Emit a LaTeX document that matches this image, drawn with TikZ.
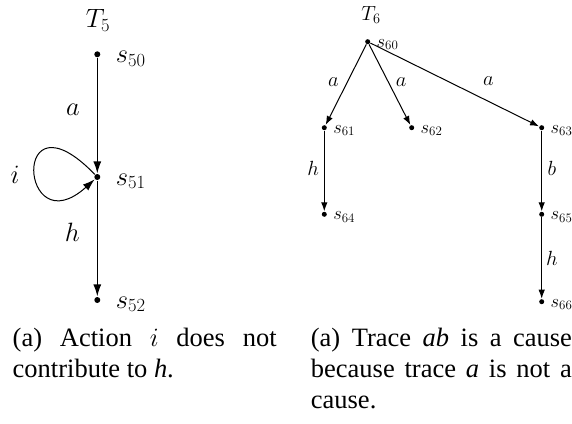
\RequirePackage{fix-cm}
\documentclass[tikz,border=0pt]{standalone}
\usepackage[no-math]{fontspec}
\setmainfont{Liberation Serif}
\usepackage{tikz}
\usetikzlibrary{arrows.meta,positioning,calc}

\begin{document}
\begin{tikzpicture}[x=1pt,y=1pt,
 dot/.style={circle,fill,inner sep=0pt,minimum size=6pt},
 sdot/.style={dot,minimum size=5pt},
 lbl/.style={inner sep=0pt},
 big/.style={font=\fontsize{26.5}{31}\selectfont},
 small/.style={font=\fontsize{20.5}{25}\selectfont},
 tiny/.style={font=\fontsize{18.5}{22}\selectfont},
 capt/.style={big,inner sep=0pt,anchor=north west,align=justify}]
\useasboundingbox (0,0) rectangle (572,-423);
% left tree
\begin{scope}[big,line width=1.2pt,>={Latex[length=12pt,width=8pt]}]
\node[dot] (s50) at (97.3,-54.3) {};
\node[dot] (s51) at (97.3,-177) {};
\node[dot] (s52) at (97.3,-300) {};
\node[lbl] (t5) at (98,-20) {$T_5$};
\node[lbl,anchor=base west] at ([xshift=18pt,yshift=-8pt]s50.center) {$s_{50}$};
\node[lbl,anchor=base west] at ([xshift=18pt,yshift=-8pt]s51.center) {$s_{51}$};
\node[lbl,anchor=base west] at ([xshift=18pt,yshift=-8pt]s52.center) {$s_{52}$};
\draw[->] (s50) -- node[lbl,pos=0.45,left=17pt] {$a$} (s51);
\draw[->] (s51) -- node[lbl,pos=0.45,left=17pt] {$h$} (s52);
\draw[->,line width=1pt] (s51) to[out=134,in=222,out distance=122pt,in distance=101pt] (s51);
\node[lbl] (li) at (15,-175) {$i$};
\end{scope}
% right tree
\begin{scope}[small,line width=1pt,>={Latex[length=9pt,width=6.5pt]}]
\node[sdot] (s60) at (367.7,-41.7) {};
\node[sdot] (s61) at (324.3,-127.7) {};
\node[sdot] (s62) at (411.7,-127.7) {};
\node[sdot] (s63) at (541.7,-127.7) {};
\node[sdot] (s64) at (324.3,-214.3) {};
\node[sdot] (s65) at (541.7,-214.3) {};
\node[sdot] (s66) at (541.7,-301.7) {};
\node[lbl] (t6) at (371,-15) {$T_6$};
\foreach \s in {60,61,62,63,64,65,66}
  \node[lbl,tiny,anchor=base west] at ([xshift=8.5pt,yshift=-5.5pt]s\s.center) {$s_{\s}$};
\draw[->] (s60) -- node[lbl,pos=0.47,left=8pt] {$a$} (s61);
\draw[->] (s60) -- node[lbl,pos=0.47,right=7pt] {$a$} (s62);
\draw[->] (s60) -- node[lbl,pos=0.7,above=15pt] {$a$} (s63);
\draw[->] (s61) -- node[lbl,pos=0.47,left=5pt] {$h$} (s64);
\draw[->] (s63) -- node[lbl,pos=0.47,right=5.5pt] {$b$} (s65);
\draw[->] (s65) -- node[lbl,pos=0.5,right=4pt] {$h$} (s66);
\end{scope}
% captions
\node[capt,text width=264pt] (cl) at (12.5,-328.3)
  {(a) Action $i$ does not\linebreak contribute to \textit{h}.};
\node[capt,text width=261pt] (cr) at (310.7,-328.3)
  {(a) Trace \textit{ab} is a cause\linebreak because trace \textit{a} is not a\linebreak cause.};
\end{tikzpicture}
\end{document}
